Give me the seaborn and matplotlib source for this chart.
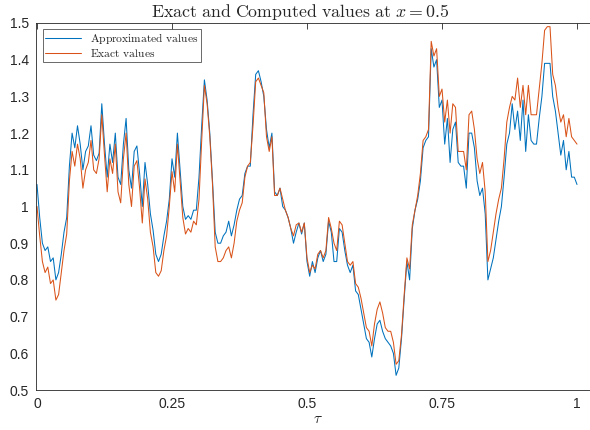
import numpy as np
import pandas as pd
import matplotlib
matplotlib.use("Agg")
import matplotlib.pyplot as plt
import seaborn as sns

# values, tau on a 0.005 grid
tau = np.linspace(0, 1, 201)

approx = [
    1.06, 0.97, 0.90, 0.88, 0.89, 0.85, 0.86, 0.80, 0.82, 0.87,
    0.93, 0.97, 1.11, 1.20, 1.16, 1.22, 1.17, 1.10, 1.15, 1.165,
    1.22, 1.14, 1.125, 1.145, 1.28, 1.17, 1.08, 1.17, 1.12, 1.20,
    1.08, 1.06, 1.17, 1.24, 1.10, 1.05, 1.15, 1.165, 1.09, 1.00,
    1.12, 1.06, 0.98, 0.935, 0.87, 0.85, 0.87, 0.92, 0.96, 1.02,
    1.13, 1.08, 1.20, 1.10, 1.00, 0.965, 0.975, 0.965, 0.99, 0.99,
    1.08, 1.22, 1.345, 1.29, 1.20, 1.07, 0.93, 0.90, 0.90, 0.92,
    0.93, 0.96, 0.92, 0.95, 0.99, 1.02, 1.03, 1.09, 1.11, 1.11,
    1.25, 1.36, 1.37, 1.34, 1.30, 1.21, 1.16, 1.20, 1.04, 1.03,
    1.05, 1.00, 0.99, 0.97, 0.94, 0.90, 0.93, 0.955, 0.925, 0.955,
    0.85, 0.81, 0.85, 0.82, 0.86, 0.88, 0.85, 0.87, 0.96, 0.93,
    0.85, 0.85, 0.94, 0.93, 0.88, 0.84, 0.82, 0.84, 0.77, 0.76,
    0.72, 0.68, 0.64, 0.63, 0.59, 0.64, 0.68, 0.69, 0.66, 0.64,
    0.63, 0.62, 0.60, 0.54, 0.56, 0.64, 0.75, 0.85, 0.80, 0.94,
    0.99, 1.02, 1.07, 1.16, 1.18, 1.19, 1.43, 1.38, 1.40, 1.27,
    1.29, 1.17, 1.24, 1.12, 1.21, 1.23, 1.12, 1.11, 1.11, 1.05,
    1.20, 1.20, 1.16, 1.07, 1.03, 1.05, 0.98, 0.80, 0.83, 0.86,
    0.91, 0.96, 1.00, 1.08, 1.17, 1.20, 1.28, 1.21, 1.26, 1.18,
    1.29, 1.15, 1.25, 1.18, 1.17, 1.17, 1.24, 1.30, 1.39, 1.39,
    1.39, 1.30, 1.26, 1.20, 1.14, 1.18, 1.10, 1.15, 1.08, 1.08,
    1.06,
]

exact = [
    1.00, 0.92, 0.85, 0.82, 0.835, 0.79, 0.80, 0.745, 0.76, 0.82,
    0.88, 0.925, 1.07, 1.15, 1.11, 1.17, 1.13, 1.05, 1.10, 1.12,
    1.18, 1.10, 1.09, 1.13, 1.25, 1.14, 1.04, 1.13, 1.09, 1.17,
    1.04, 1.01, 1.13, 1.20, 1.06, 1.00, 1.11, 1.125, 1.05, 0.955,
    1.075, 1.02, 0.93, 0.89, 0.82, 0.81, 0.825, 0.88, 0.92, 1.00,
    1.095, 1.04, 1.17, 1.07, 0.97, 0.925, 0.94, 0.93, 0.96, 0.95,
    1.02, 1.18, 1.33, 1.28, 1.19, 1.06, 0.89, 0.85, 0.85, 0.86,
    0.88, 0.89, 0.86, 0.90, 0.96, 0.99, 1.01, 1.08, 1.11, 1.12,
    1.22, 1.34, 1.35, 1.33, 1.31, 1.19, 1.15, 1.19, 1.03, 1.03,
    1.05, 1.02, 0.99, 0.97, 0.94, 0.92, 0.95, 0.955, 0.93, 0.955,
    0.86, 0.82, 0.84, 0.83, 0.87, 0.88, 0.86, 0.88, 0.97, 0.94,
    0.90, 0.88, 0.96, 0.95, 0.90, 0.85, 0.84, 0.85, 0.79, 0.78,
    0.75, 0.71, 0.67, 0.66, 0.62, 0.68, 0.72, 0.74, 0.71, 0.67,
    0.66, 0.66, 0.63, 0.57, 0.58, 0.65, 0.76, 0.86, 0.83, 0.95,
    0.99, 1.03, 1.09, 1.18, 1.19, 1.21, 1.45, 1.41, 1.43, 1.30,
    1.32, 1.23, 1.29, 1.20, 1.28, 1.27, 1.15, 1.15, 1.15, 1.10,
    1.25, 1.26, 1.21, 1.13, 1.09, 1.12, 1.04, 0.85, 0.88, 0.93,
    0.98, 1.02, 1.05, 1.13, 1.23, 1.27, 1.30, 1.29, 1.35, 1.27,
    1.33, 1.25, 1.33, 1.25, 1.25, 1.25, 1.32, 1.39, 1.48, 1.49,
    1.49, 1.36, 1.33, 1.27, 1.23, 1.25, 1.19, 1.24, 1.19, 1.18,
    1.17,
]

series_names = ["Approximated values", "Exact values"]
yticks = [0.5, 0.6, 0.7, 0.8, 0.9, 1.0, 1.1, 1.2, 1.3, 1.4, 1.5]
ytick_labels = ["0.5", "0.6", "0.7", "0.8", "0.9", "1", "1.1", "1.2", "1.3", "1.4", "1.5"]
xticks = [0, 0.25, 0.5, 0.75, 1]
xtick_labels = ["0", "0.25", "0.5", "0.75", "1"]

df = pd.DataFrame({
    "tau": np.concatenate([tau, tau]),
    "value": approx + exact,
    "series": [series_names[0]] * len(tau) + [series_names[1]] * len(tau),
})

sns.set_style("white")
plt.rcParams["font.family"] = ["Liberation Sans", "DejaVu Sans"]
plt.rcParams["mathtext.fontset"] = "cm"
plt.rcParams["axes.edgecolor"] = "#262626"
plt.rcParams["xtick.direction"] = "in"
plt.rcParams["ytick.direction"] = "in"

fig = plt.figure(figsize=(5.9, 4.3), dpi=100)
# axes runs past the right edge like the cropped original
ax = fig.add_axes([36 / 590, 40 / 430, 564 / 590, 367 / 430])

sns.lineplot(data=df, x="tau", y="value", hue="series",
             palette=["#0072BD", "#D95319"], linewidth=0.75, ax=ax)

ax.set_xlim(-1 / 540, 563 / 540)
ax.set_ylim(0.5, 1.5)
ax.set_xticks(xticks)
ax.set_xticklabels(xtick_labels, fontsize=10, color="#262626")
ax.set_yticks(yticks)
ax.set_yticklabels(ytick_labels, fontsize=10, color="#262626")
ax.tick_params(axis="both", length=4, width=0.6, top=True, right=False, pad=5)
ax.spines["right"].set_visible(False)
for s in ax.spines.values():
    s.set_linewidth(0.6)

ax.set_xlabel(r"$\tau$", fontsize=11, labelpad=1)
ax.set_ylabel("")
ax.set_title(r"$\mathrm{Exact\ and\ Computed\ values\ at}\ x = 0.5$",
             fontsize=12.8, x=(300 - 36) / 564, pad=4)

leg = ax.legend(
    handles=ax.get_lines()[:2],
    labels=[r"$\mathrm{Approximated\ values}$", r"$\mathrm{Exact\ values}$"],
    loc="upper left", bbox_to_anchor=(7 / 564, 1 - 6 / 367),
    fancybox=False, frameon=True, edgecolor="#262626", fontsize=8.3,
    handlelength=3.1, handletextpad=0.8, borderpad=0.2, labelspacing=0.15,
    borderaxespad=0,
)
leg.get_frame().set_linewidth(0.6)

fig.savefig("out.png", dpi=100)
